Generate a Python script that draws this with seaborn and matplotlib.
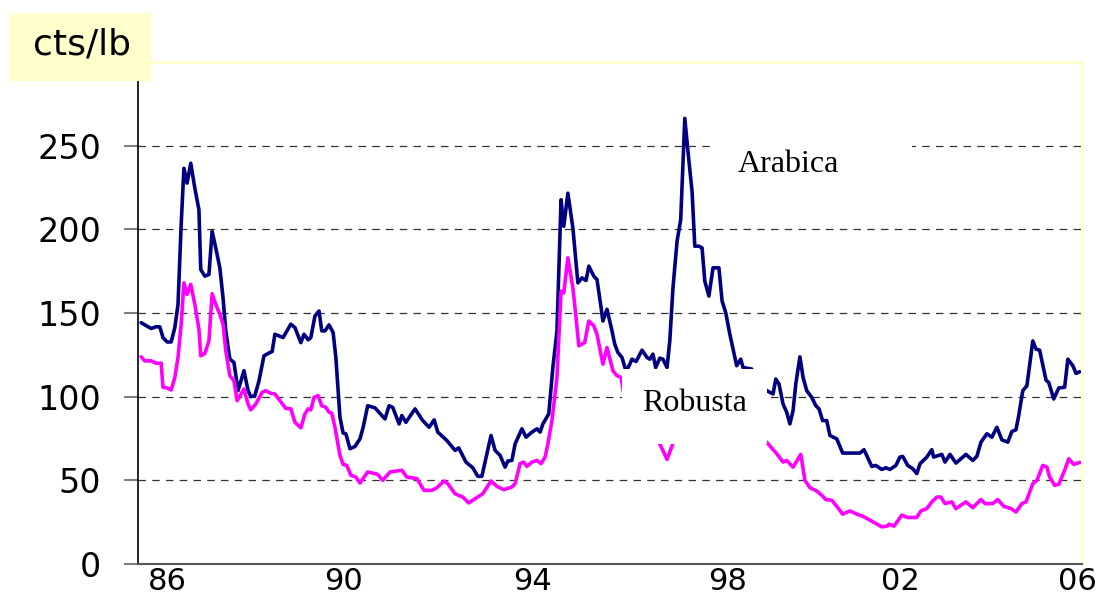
import pandas as pd
import matplotlib.pyplot as plt
import seaborn as sns
from matplotlib.patches import Rectangle

sns.set_theme(style="white")
plt.rcParams['font.family'] = ['DejaVu Sans']

# monthly-ish readings, cts/lb (x in decimal years)
arabica_year = [
    1986.07, 1986.29, 1986.40, 1986.48, 1986.55, 1986.64, 1986.73, 1986.81, 1986.88, 1986.95,
    1987.01, 1987.08, 1987.16, 1987.25, 1987.34, 1987.38, 1987.47, 1987.56, 1987.63, 1987.71,
    1987.80, 1987.87, 1987.93, 1988.02, 1988.11, 1988.20, 1988.33, 1988.42, 1988.48, 1988.57,
    1988.66, 1988.77, 1988.86, 1988.95, 1989.01, 1989.19, 1989.36, 1989.45, 1989.58, 1989.65,
    1989.74, 1989.80, 1989.89, 1989.98, 1990.04, 1990.11, 1990.20, 1990.29, 1990.35, 1990.44,
    1990.51, 1990.57, 1990.66, 1990.77, 1990.88, 1990.95, 1991.05, 1991.21, 1991.43, 1991.52,
    1991.60, 1991.74, 1991.80, 1991.89, 1992.09, 1992.26, 1992.40, 1992.51, 1992.59, 1992.79,
    1992.97, 1993.05, 1993.21, 1993.36, 1993.47, 1993.56, 1993.76, 1993.85, 1993.96, 1994.07,
    1994.13, 1994.22, 1994.29, 1994.44, 1994.53, 1994.66, 1994.77, 1994.84, 1994.90, 1995.03,
    1995.12, 1995.21, 1995.30, 1995.36, 1995.45, 1995.56, 1995.67, 1995.76, 1995.85, 1995.91,
    1996.02, 1996.09, 1996.18, 1996.22, 1996.31, 1996.42, 1996.48, 1996.55, 1996.64, 1996.73,
    1996.81, 1996.86, 1996.95, 1997.08, 1997.19, 1997.25, 1997.32, 1997.38, 1997.47, 1997.54,
    1997.63, 1997.69, 1997.76, 1997.85, 1997.93, 1998.02, 1998.09, 1998.18, 1998.24, 1998.33,
    1998.40, 1998.46, 1998.55, 1998.64, 1998.77, 1998.84, 1998.92, 1999.01, 1999.12, 1999.16,
    1999.25, 1999.30, 1999.49, 1999.67, 1999.82, 1999.96, 2000.02, 2000.09, 2000.18, 2000.26,
    2000.33, 2000.40, 2000.46, 2000.55, 2000.62, 2000.70, 2000.81, 2000.90, 2000.97, 2001.05,
    2001.14, 2001.21, 2001.36, 2001.49, 2001.87, 2001.96, 2002.13, 2002.22, 2002.35, 2002.44,
    2002.53, 2002.66, 2002.75, 2002.81, 2002.92, 2003.03, 2003.12, 2003.19, 2003.34, 2003.45,
    2003.49, 2003.67, 2003.74, 2003.85, 2003.98, 2004.20, 2004.35, 2004.44, 2004.53, 2004.66,
    2004.77, 2004.88, 2004.99, 2005.12, 2005.21, 2005.30, 2005.36, 2005.45, 2005.54, 2005.67,
    2005.74, 2005.82, 2005.96, 2006.02, 2006.13, 2006.24, 2006.37, 2006.44, 2006.55, 2006.62,
    2006.70,
]
arabica_price = [
    144.2, 140.7, 141.8, 141.7, 135.3, 132.7, 132.7, 141.3, 155.0, 203.0,
    236.5, 227.6, 239.5, 224.6, 211.7, 176.0, 172.0, 173.0, 198.8, 188.9,
    177.0, 159.0, 139.3, 122.4, 120.4, 103.6, 115.5, 103.6, 100.0, 100.6,
    109.5, 124.4, 125.8, 127.0, 137.3, 135.3, 143.3, 141.3, 132.3, 137.3,
    134.0, 135.3, 148.2, 151.2, 139.3, 139.3, 142.9, 138.3, 123.4, 87.7,
    78.2, 77.8, 68.9, 70.2, 74.8, 81.7, 94.6, 93.3, 86.7, 94.6,
    93.6, 83.7, 88.7, 84.7, 92.7, 85.7, 81.7, 86.1, 78.8, 73.8,
    67.9, 69.4, 60.9, 57.5, 52.4, 52.4, 76.8, 67.9, 64.9, 57.9,
    61.5, 61.9, 71.8, 80.8, 75.8, 78.8, 80.8, 78.8, 83.7, 89.7,
    117.4, 139.3, 217.7, 201.8, 221.6, 200.8, 168.0, 171.0, 169.4, 178.0,
    172.0, 170.0, 153.2, 145.2, 152.2, 139.3, 131.4, 126.4, 123.4, 115.0,
    119.4, 122.4, 121.0, 127.8, 123.4, 122.4, 125.4, 117.4, 123.0, 122.4,
    117.4, 133.3, 165.0, 192.9, 205.8, 266.3, 246.4, 222.6, 189.9, 189.9,
    188.9, 169.0, 160.1, 177.0, 177.0, 157.1, 150.2, 137.3, 123.4, 118.5,
    122.4, 117.4, 116.5, 108.0, 103.6, 101.6, 110.5, 107.6, 95.6, 90.7,
    83.7, 91.7, 107.6, 123.8, 111.5, 103.6, 99.6, 94.6, 92.7, 85.7,
    85.7, 76.8, 74.8, 66.3, 66.3, 68.3, 58.3, 58.9, 56.5, 57.5,
    56.5, 58.9, 63.9, 64.3, 58.9, 57.0, 54.0, 59.9, 63.9, 68.3,
    63.9, 65.5, 60.9, 65.5, 60.3, 65.5, 61.9, 64.3, 72.8, 77.8,
    75.8, 81.7, 74.2, 72.8, 79.2, 80.2, 88.7, 103.6, 106.5, 133.3,
    128.4, 127.8, 109.9, 108.5, 98.6, 105.2, 105.6, 122.4, 118.5, 113.9,
    114.9,
]

robusta_year = [
    1986.07, 1986.15, 1986.29, 1986.40, 1986.51, 1986.55, 1986.64, 1986.73, 1986.81, 1986.88,
    1986.95, 1987.01, 1987.08, 1987.16, 1987.25, 1987.34, 1987.38, 1987.47, 1987.56, 1987.63,
    1987.71, 1987.80, 1987.87, 1987.93, 1988.02, 1988.11, 1988.18, 1988.33, 1988.42, 1988.48,
    1988.59, 1988.73, 1988.81, 1988.92, 1989.01, 1989.12, 1989.25, 1989.36, 1989.45, 1989.58,
    1989.67, 1989.74, 1989.80, 1989.87, 1989.96, 1990.04, 1990.13, 1990.20, 1990.26, 1990.33,
    1990.44, 1990.51, 1990.59, 1990.68, 1990.79, 1990.88, 1991.05, 1991.27, 1991.38, 1991.54,
    1991.80, 1991.91, 1992.13, 1992.29, 1992.46, 1992.57, 1992.73, 1992.81, 1992.97, 1993.14,
    1993.27, 1993.45, 1993.58, 1993.76, 1993.89, 1994.04, 1994.22, 1994.29, 1994.40, 1994.48,
    1994.55, 1994.66, 1994.77, 1994.86, 1994.95, 1995.01, 1995.10, 1995.21, 1995.30, 1995.36,
    1995.45, 1995.56, 1995.63, 1995.69, 1995.82, 1995.91, 1996.02, 1996.09, 1996.22, 1996.31,
    1996.44, 1996.53, 1996.62, 1996.70, 1997.03, 1997.36, 1997.47, 1997.63, 1997.76, 1998.02,
    1998.35, 1998.79, 1999.23, 1999.56, 1999.82, 2000.04, 2000.18, 2000.26, 2000.40, 2000.57,
    2000.66, 2000.77, 2000.92, 2001.03, 2001.12, 2001.25, 2001.36, 2001.49, 2001.65, 2001.80,
    2001.93, 2002.09, 2002.35, 2002.46, 2002.51, 2002.62, 2002.79, 2002.92, 2003.12, 2003.21,
    2003.34, 2003.45, 2003.56, 2003.65, 2003.74, 2003.89, 2003.98, 2004.20, 2004.35, 2004.53,
    2004.62, 2004.79, 2004.90, 2005.03, 2005.19, 2005.30, 2005.43, 2005.52, 2005.67, 2005.76,
    2005.89, 2005.98, 2006.04, 2006.15, 2006.24, 2006.37, 2006.46, 2006.57, 2006.70,
]
robusta_price = [
    123.8, 121.4, 121.4, 120.0, 120.0, 105.6, 105.2, 104.0, 111.5, 123.4,
    143.3, 168.0, 161.1, 167.1, 155.2, 140.3, 124.4, 125.8, 133.3, 161.5,
    155.2, 149.2, 143.3, 127.4, 112.5, 109.5, 97.6, 104.6, 95.6, 92.1,
    95.6, 102.6, 103.6, 102.0, 101.6, 97.6, 93.0, 92.7, 84.7, 81.4,
    89.7, 92.7, 92.1, 99.6, 100.6, 94.6, 93.6, 90.7, 90.1, 81.7,
    64.9, 59.5, 58.9, 53.0, 52.0, 48.4, 55.0, 53.6, 50.0, 55.0,
    56.0, 52.0, 51.0, 44.0, 44.0, 45.6, 49.6, 48.0, 42.0, 40.0,
    36.5, 39.7, 42.0, 49.6, 46.4, 44.4, 46.0, 48.0, 60.0, 60.9,
    58.3, 60.9, 61.9, 60.0, 63.9, 71.8, 85.7, 111.5, 163.0, 162.0,
    183.0, 165.0, 147.2, 130.4, 132.3, 145.2, 142.3, 137.3, 119.4, 129.4,
    115.5, 112.5, 111.5, 98.0, 88.0, 76.0, 71.8, 62.5, 72.0, 88.0,
    94.0, 90.0, 84.0, 78.0, 72.8, 65.9, 60.9, 61.9, 57.9, 65.5,
    50.0, 45.6, 43.6, 41.1, 38.5, 38.1, 34.5, 29.8, 31.7, 29.8,
    28.6, 26.2, 22.2, 22.6, 23.8, 22.6, 29.2, 27.8, 27.8, 31.7,
    33.1, 37.1, 40.0, 40.0, 36.1, 37.1, 33.1, 37.1, 33.7, 38.5,
    36.1, 36.1, 38.5, 34.5, 33.1, 31.1, 36.1, 37.1, 48.0, 50.0,
    58.9, 57.9, 52.0, 47.0, 47.6, 56.0, 62.9, 59.5, 60.7,
]

tick_years = [1986.64, 1990.51, 1994.68, 1998.95, 2002.75, 2006.64]
tick_labels = ['86', '90', '94', '98', '02', '06']
y_ticks = [0, 50, 100, 150, 200, 250]

df = pd.concat([
    pd.DataFrame({'year': arabica_year, 'price': arabica_price, 'coffee': 'Arabica'}),
    pd.DataFrame({'year': robusta_year, 'price': robusta_price, 'coffee': 'Robusta'}),
], ignore_index=True)

fig = plt.figure(figsize=(11.02, 5.92), dpi=100)
ax = fig.add_axes([0.1252, 0.0473, 0.8566, 0.848])

sns.lineplot(data=df, x='year', y='price', hue='coffee',
             palette={'Arabica': '#000080', 'Robusta': '#ff00ff'},
             estimator=None, linewidth=2.6, legend=False, ax=ax)

ax.set_xlim(1986, 2006.75)
ax.set_ylim(0, 300)
ax.set_yticks(y_ticks)
ax.set_xticks(tick_years)
ax.set_xticklabels(tick_labels)
ax.set_xlabel('')
ax.set_ylabel('')

ax.grid(axis='y', color='#333333', linestyle=(0, (6, 5)), linewidth=0.9)
ax.grid(axis='x', visible=False)
ax.set_axisbelow(True)

ax.tick_params(axis='y', left=True, length=10, width=1.5, color='#808080',
               pad=16.5, labelsize=24, labelcolor='black')
ax.tick_params(axis='x', bottom=False, length=0, pad=2, labelsize=22, labelcolor='black')

ax.spines['left'].set_color('black')
ax.spines['left'].set_linewidth(1.2)
ax.spines['bottom'].set_color('#555555')
ax.spines['bottom'].set_linewidth(1.5)
for side in ['top', 'right']:
    ax.spines[side].set_color('#ffffcc')
    ax.spines[side].set_linewidth(2)

# white label boxes
ax.add_patch(Rectangle((1996.64, 72.0), 3.18, 44.7, facecolor='white',
                       edgecolor='none', zorder=3))
ax.add_patch(Rectangle((1998.68, 221.0), 4.33, 38.0, facecolor='white',
                       edgecolor='none', zorder=3))
ax.text(1999.19, 234.5, 'Arabica', family='Liberation Serif', fontsize=23,
        color='black', ha='left', va='baseline', zorder=4)
ax.text(1997.08, 91.7, 'Robusta', family='Liberation Serif', fontsize=23,
        color='black', ha='left', va='baseline', zorder=4)

# unit label box
fig.add_artist(Rectangle((10 / 1102, 1 - 81 / 592), 141 / 1102, 68 / 592,
                         transform=fig.transFigure, facecolor='#ffffcc',
                         edgecolor='none', zorder=5))
fig.text(82 / 1102, 1 - 54 / 592, 'cts/lb', fontsize=26, color='black',
         ha='center', va='baseline', zorder=6)

fig.savefig('out.png', dpi=100)
